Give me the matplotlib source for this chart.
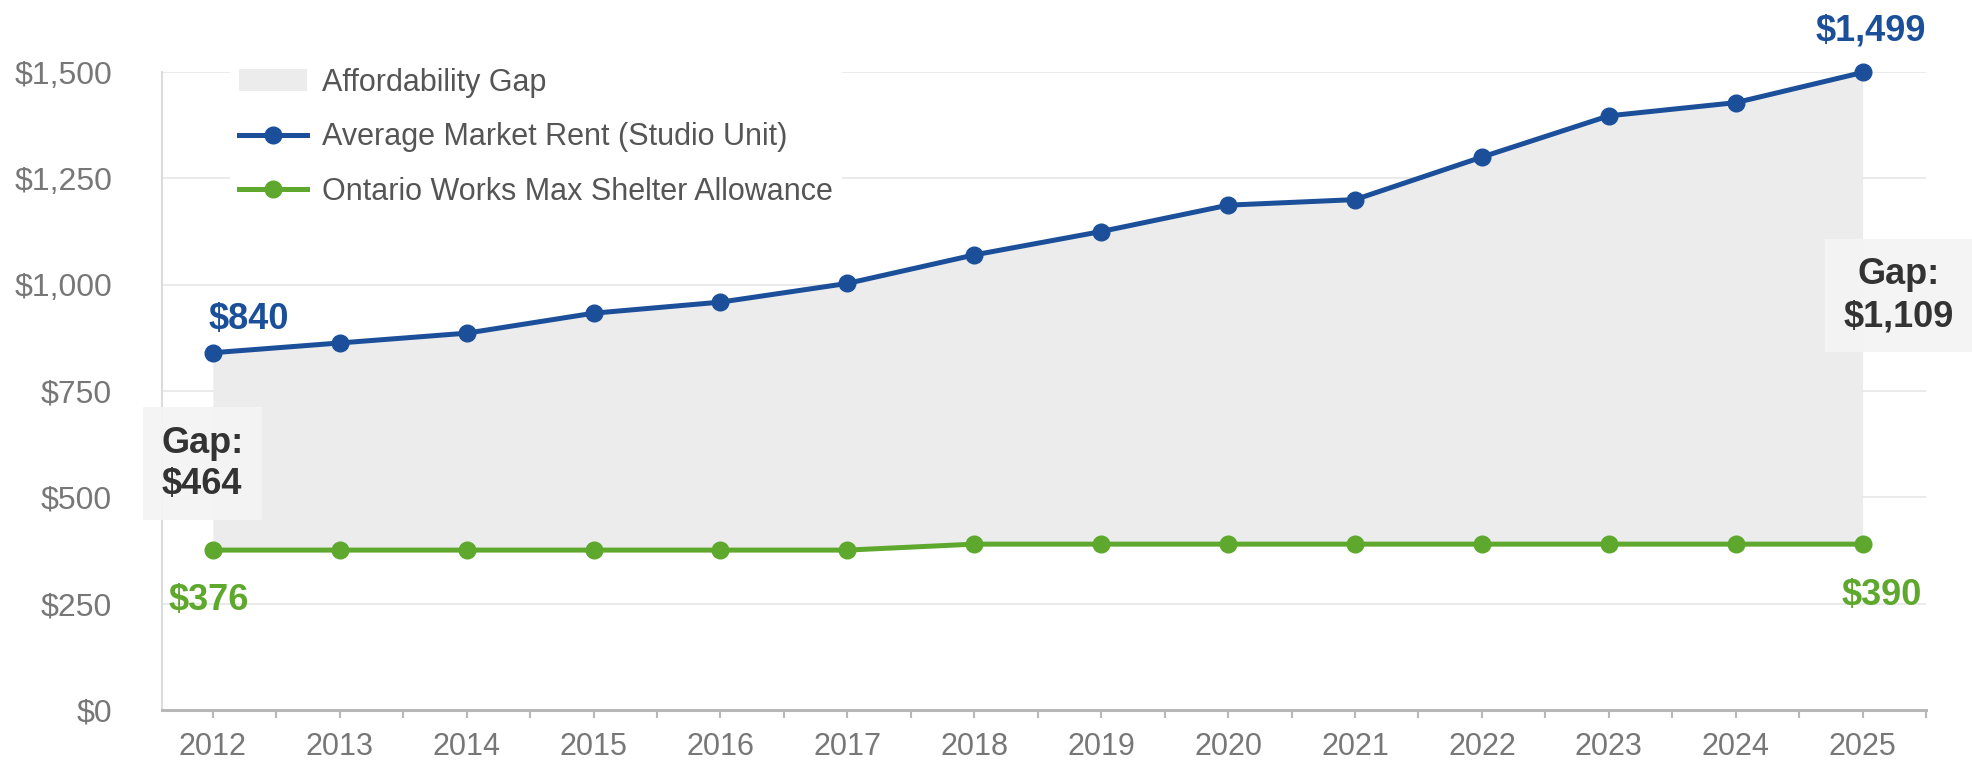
import matplotlib.pyplot as plt
import matplotlib.ticker as mticker
import numpy as np

plt.rcParams['font.family'] = ['Liberation Sans', 'DejaVu Sans']

# data
years = [2012, 2013, 2014, 2015, 2016, 2017, 2018,
         2019, 2020, 2021, 2022, 2023, 2024, 2025]
market_rent = [840, 863, 886, 933, 959, 1003, 1070,
               1125, 1187, 1200, 1300, 1397, 1428, 1499]
shelter_allowance = [376, 376, 376, 376, 376, 376, 390,
                     390, 390, 390, 390, 390, 390, 390]
y_ticks = [0, 250, 500, 750, 1000, 1250, 1500]

blue = '#1c4f9a'
green = '#5ea82e'
gap_grey = '#ececec'

fig = plt.figure(figsize=(19.72, 7.72), dpi=100)
ax = fig.add_axes([0.0822, 0.0803, 0.8945, 0.8264])

# affordability gap shading
ax.fill_between(years, shelter_allowance, market_rent, color=gap_grey,
                linewidth=0, label='Affordability Gap', zorder=1)

ax.plot(years, market_rent, color=blue, lw=3.6, marker='o', markersize=12,
        label='Average Market Rent (Studio Unit)', zorder=3, clip_on=False)
ax.plot(years, shelter_allowance, color=green, lw=3.6, marker='o', markersize=12,
        label='Ontario Works Max Shelter Allowance', zorder=3, clip_on=False)

ax.set_xlim(2011.6, 2025.5)
ax.set_ylim(0, 1500)
ax.set_yticks(y_ticks)
ax.yaxis.set_major_formatter(mticker.FuncFormatter(lambda v, p: f'${v:,.0f}'))
ax.set_xticks(years)
ax.set_xticks(np.arange(2012.5, 2026, 1), minor=True)

ax.grid(axis='y', color='#e6e6e6', lw=1.2, zorder=0)
ax.set_axisbelow(True)
for s in ['top', 'right']:
    ax.spines[s].set_visible(False)
ax.spines['left'].set_color('#dcdcdc')
ax.spines['left'].set_linewidth(1.5)
ax.spines['bottom'].set_color('#b8b8b8')
ax.spines['bottom'].set_linewidth(2.2)

ax.tick_params(axis='y', length=0, pad=36, labelsize=23, labelcolor='#777777')
ax.tick_params(axis='x', which='both', length=6, width=1.5, color='#b8b8b8',
               pad=10, labelsize=22, labelcolor='#777777')

# value labels
lab = dict(textcoords='offset points', fontsize=26, fontweight='bold')
ax.annotate('$840', (years[0], market_rent[0]), xytext=(-3, 24),
            ha='left', va='center', color=blue, **lab)
ax.annotate('$1,499', (years[-1], market_rent[-1]), xytext=(6, 30),
            ha='center', va='center', color=blue, **lab)
ax.annotate('$376', (years[0], shelter_allowance[0]), xytext=(-32, -36),
            ha='left', va='center', color=green, **lab)
ax.annotate('$390', (years[-1], shelter_allowance[-1]), xytext=(14, -37),
            ha='center', va='center', color=green, **lab)

# gap call-outs
box = dict(boxstyle='square,pad=0.5', fc='#f4f4f4', ec='none', alpha=0.95)
gap_start = market_rent[0] - shelter_allowance[0]
gap_end = market_rent[-1] - shelter_allowance[-1]
ax.annotate(f'Gap:\n${gap_start:,}', (years[0], (market_rent[0] + shelter_allowance[0]) / 2),
            xytext=(-37, -9), ha='left', va='center', color='#333333',
            linespacing=1.25, bbox=box, zorder=5, **lab)
ax.annotate(f'Gap:\n${gap_end:,}', (years[-1], (market_rent[-1] + shelter_allowance[-1]) / 2),
            xytext=(26, 9), ha='center', va='center', color='#333333',
            linespacing=1.25, bbox=box, zorder=5, annotation_clip=False, **lab)

leg = ax.legend(loc='upper left', bbox_to_anchor=(0.03, 1.045), fontsize=22,
                frameon=True, facecolor='white', edgecolor='none', framealpha=1,
                handlelength=2.2, handletextpad=0.5, labelspacing=0.8,
                borderpad=0.3)
for t in leg.get_texts():
    t.set_color('#555555')
leg.set_zorder(6)

fig.savefig('out.png', dpi=100, facecolor='white')
